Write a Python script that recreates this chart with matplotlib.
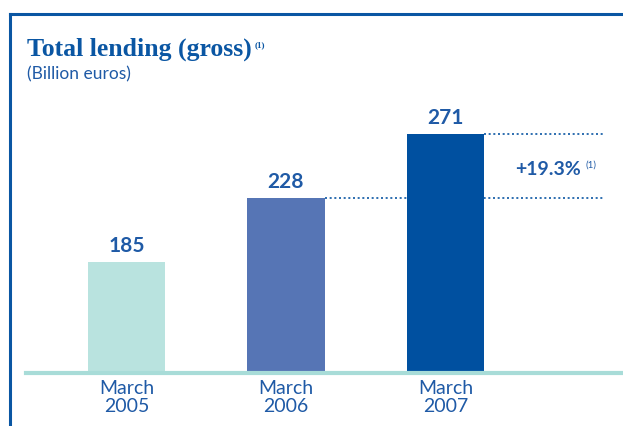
import matplotlib.pyplot as plt
from matplotlib.lines import Line2D

# data
periods = ['March\n2005', 'March\n2006', 'March\n2007']
lending = [185, 228, 271]
bar_colors = ['#b9e3df', '#5675b5', '#0050a0']
growth_label = '+19.3%'

text_blue = '#1f5aa6'
frame_blue = '#0a56a3'

fig = plt.figure(figsize=(6.23, 4.26), dpi=100)
ax = fig.add_axes([26 / 623, 53 / 426, 597 / 623, 273 / 426])

x = range(len(lending))
ax.bar(x, lending, width=0.483, color=bar_colors, zorder=2)
ax.set_xlim(-0.63, 3.113)
ax.set_ylim(110.4, 293.9)

for xi, v in zip(x, lending):
    ax.text(xi, v + 4, str(v), ha='center', va='bottom', fontsize=15,
            fontweight='bold', color=text_blue, family='Lato')

# dotted reference lines for last two years
ax.hlines(lending[2], 2 + 0.2415, 3.0, colors=frame_blue, linestyles=(0, (1.2, 1.6)), lw=1.2)
ax.hlines(lending[1], 1 + 0.2415, 3.0, colors=frame_blue, linestyles=(0, (1.2, 1.6)), lw=1.2, zorder=1)
mid = (lending[1] + lending[2]) / 2 - 2.5
ax.text(2.85, mid, growth_label, ha='right', va='center',
        fontsize=14, fontweight='bold', color=text_blue, family='Lato')
ax.text(2.875, mid + 3, '(1)', ha='left', va='center',
        fontsize=7, color=text_blue, family='Lato')

ax.axhline(110.4, color='#a8dcd8', lw=3, zorder=3, clip_on=False)
ax.set_xticks(list(x))
ax.set_xticklabels(periods, fontsize=14, color=text_blue, family='Lato', linespacing=1.05)
ax.tick_params(axis='x', length=0, pad=5)
ax.set_yticks([])
for s in ax.spines.values():
    s.set_visible(False)

# frame around the panel
fig.add_artist(Line2D([10 / 623, 1], [1 - 14 / 426] * 2, color=frame_blue, lw=2.2))
fig.add_artist(Line2D([10 / 623] * 2, [0, 1 - 14 / 426], color=frame_blue, lw=2.2))

fig.text(27 / 623, 1 - 56 / 426, 'Total lending (gross)', fontsize=18.5, fontweight='bold',
         color=frame_blue, family='Liberation Serif')
fig.text(255 / 623, 1 - 47 / 426, '(1)', fontsize=6.5, fontweight='bold', color=frame_blue,
         family='Liberation Serif')
fig.text(27 / 623, 1 - 79 / 426, '(Billion euros)', fontsize=12.5, color=text_blue, family='Lato')

fig.savefig('out.png', dpi=100)
